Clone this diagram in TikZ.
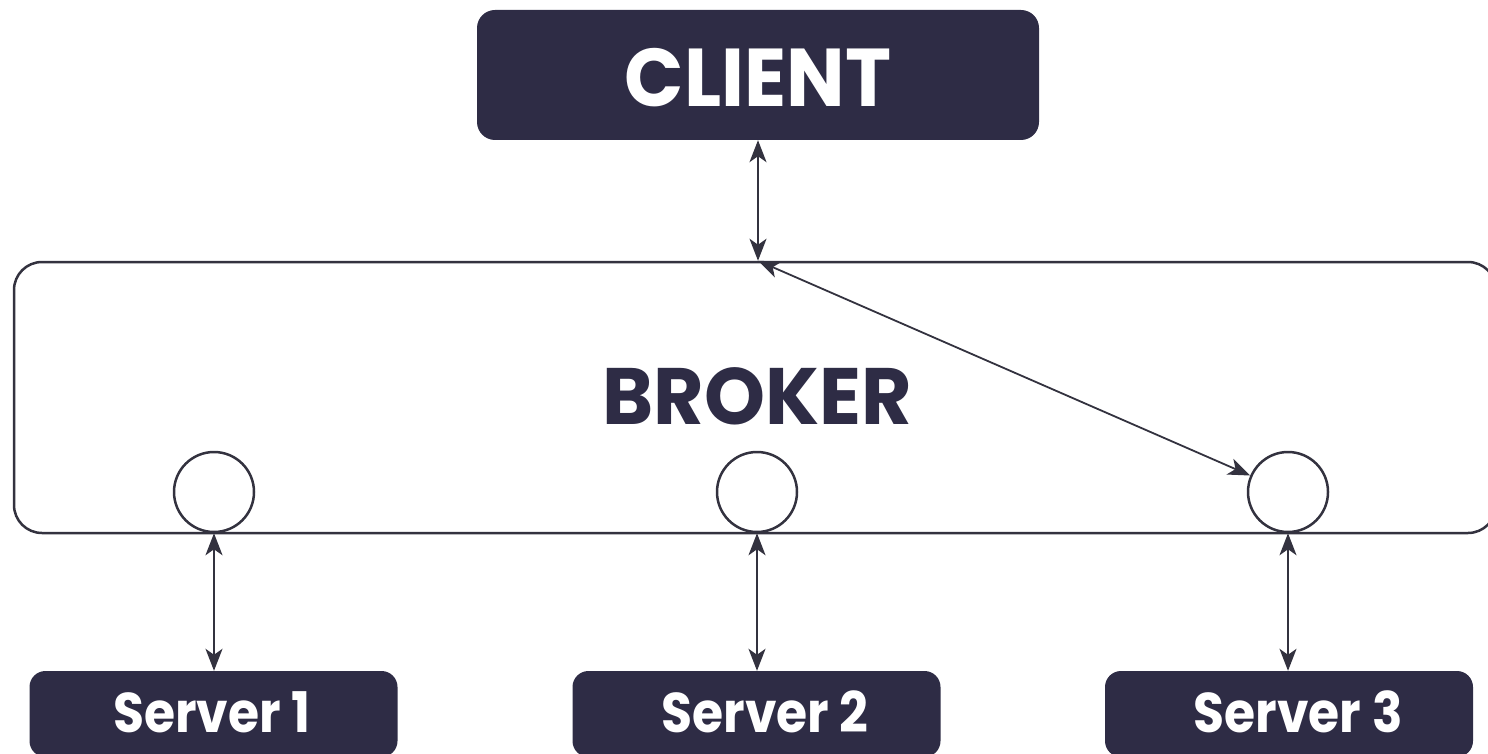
\documentclass[tikz,border=0pt]{standalone}
\usepackage{fontspec}
\setmainfont{Poppins}
\usetikzlibrary{arrows.meta}
\definecolor{navy}{HTML}{2E2C45}
\definecolor{ink}{HTML}{33323F}
\tikzset{
  darkbox/.style={fill=navy, draw=none, rounded corners=#1, inner sep=0pt},
  port/.style={circle, draw=ink, line width=2.5pt, fill=white, minimum size=80pt, inner sep=0pt},
  link/.style={draw=ink, line width=1.8pt, {Stealth[length=22pt,width=17pt,inset=6pt]}-{Stealth[length=22pt,width=17pt,inset=6pt]}},
  serverlabel/.style={text=white, font=\bfseries\fontsize{56}{64}\selectfont}
}
\begin{document}
\begin{tikzpicture}[x=1pt,y=-1pt]
  \useasboundingbox (0,0) rectangle (1488,754);

  % broker frame (right edge runs just past the page)
  \node[draw=ink, line width=2.5pt, rounded corners=28pt, minimum width=1482pt, minimum height=271pt, inner sep=0pt]
    (broker) at (755,397.5) {};
  \node[text=navy, font=\bfseries\fontsize{80}{90}\selectfont] (brokerlabel) at (757,396) {\scalebox{0.97}[1]{BROKER}};

  % client
  \node[darkbox=18pt, minimum width=562pt, minimum height=130pt] (client) at (758,75) {};
  \node[text=white, font=\bfseries\fontsize{82}{90}\selectfont] (clientlabel) at (758,78) {\scalebox{0.95}[1]{CLIENT}};

  % ports on the broker
  \node[port] (p1) at (214,492) {};
  \node[port] (p2) at (757,492) {};
  \node[port] (p3) at (1288,492) {};

  % servers
  \node[darkbox=16pt, minimum width=368pt, minimum height=86pt] (s1) at (213.5,714) {};
  \node[darkbox=16pt, minimum width=368pt, minimum height=86pt] (s2) at (756.5,714) {};
  \node[darkbox=16pt, minimum width=368pt, minimum height=86pt] (s3) at (1289,714) {};
  \node[serverlabel] (l1) at (212,712) {\scalebox{0.9}[1]{Server 1}};
  \node[serverlabel] (l2) at (765,712) {\scalebox{0.9}[1]{Server 2}};
  \node[serverlabel] (l3) at (1298,712) {\scalebox{0.9}[1]{Server 3}};

  % connectors
  \coordinate (junction) at (client.south |- broker.north);
  \draw[link] (client.south) -- (junction);
  \draw[link] (junction) -- (p3);
  \draw[link] (p1.south) -- (s1.north -| p1.south);
  \draw[link] (p2.south) -- (s2.north -| p2.south);
  \draw[link] (p3.south) -- (s3.north -| p3.south);
\end{tikzpicture}
\end{document}
